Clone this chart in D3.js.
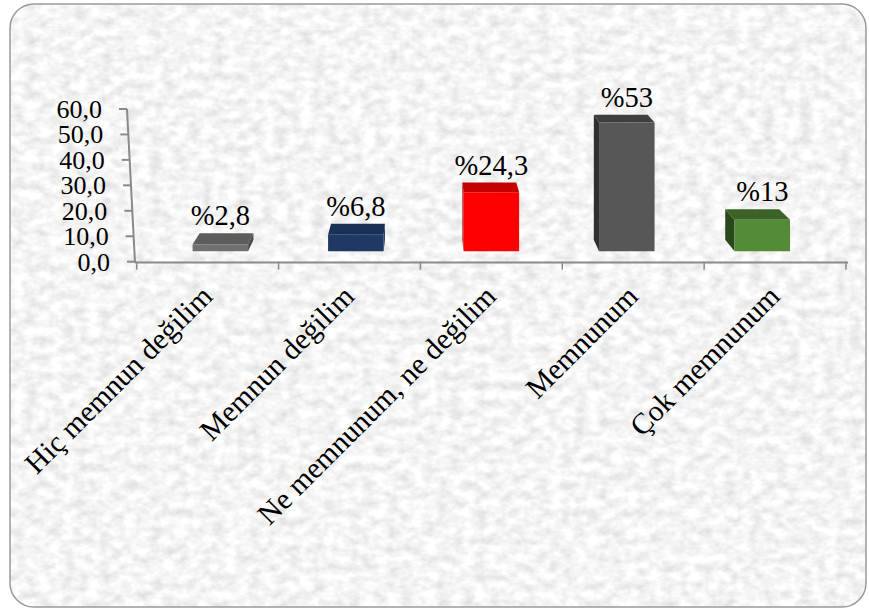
<!DOCTYPE html>
<html>
<head>
<meta charset="utf-8">
<script src="https://cdn.jsdelivr.net/npm/d3@7"></script>
<style>
  html, body { margin: 0; padding: 0; background: #ffffff; }
  svg { display: block; }
  text { font-family: "Liberation Serif", "Times New Roman", serif; fill: #000; }
</style>
</head>
<body>
<svg id="chart" width="869" height="610"></svg>
<script>
// ---------- data ----------
const categories = ["Hiç memnun değilim", "Memnun değilim", "Ne memnunum, ne değilim", "Memnunum", "Çok memnunum"];
const values = [2.8, 6.8, 24.3, 53, 13];
const valueLabels = ["%2,8", "%6,8", "%24,3", "%53", "%13"];
const yTicks = [0, 10, 20, 30, 40, 50, 60];
const yTickLabels = ["0,0", "10,0", "20,0", "30,0", "40,0", "50,0", "60,0"];
const frontColors = ["#72706e", "#203864", "#ff0000", "#575757", "#558b37"];
const topColors = ["#5e5c5a", "#1a2f55", "#c40000", "#3f3f3f", "#3c6327"];
const sideColors = ["#4a4846", "#142644", "#a00000", "#2f2f2f", "#2b471c"];

// ---------- setup ----------
const svg = d3.select("#chart");

const defs = svg.append("defs");
const filt = defs.append("filter").attr("id", "paper")
  .attr("x", 0).attr("y", 0).attr("width", "100%").attr("height", "100%");
filt.append("feTurbulence").attr("type", "fractalNoise")
  .attr("baseFrequency", "0.08 0.11").attr("numOctaves", 3).attr("seed", 11).attr("result", "t");
filt.append("feColorMatrix").attr("in", "t").attr("type", "matrix")
  .attr("values", "0.45 0 0 0 0.685  0.45 0 0 0 0.685  0.45 0 0 0 0.685  0 0 0 0 1")
  .attr("result", "g");
filt.append("feComposite").attr("in", "g").attr("in2", "SourceGraphic").attr("operator", "in");

const frame = { x: 10, y: 4, w: 856, h: 603, r: 24 };
svg.append("rect").attr("x", frame.x).attr("y", frame.y).attr("width", frame.w).attr("height", frame.h)
  .attr("rx", frame.r).attr("ry", frame.r).attr("fill", "#000").attr("filter", "url(#paper)");
svg.append("line").attr("x1", frame.x + 2).attr("x2", frame.x + frame.w - 2)
  .attr("y1", 29).attr("y2", 29).attr("stroke", "#ffffff").attr("stroke-opacity", 0.5).attr("stroke-width", 1);
svg.append("rect").attr("x", frame.x).attr("y", frame.y).attr("width", frame.w).attr("height", frame.h)
  .attr("rx", frame.r).attr("ry", frame.r).attr("fill", "none").attr("stroke", "#9a9a9a").attr("stroke-width", 1.5);

// ---------- scales ----------
const x = d3.scaleBand().domain(categories).range([136.7, 846]).paddingInner(0).paddingOuter(0);
const y = d3.scaleLinear().domain([0, 60]).range([261.7, 109]);
const axisX = d3.scaleLinear().domain([0, 60]).range([135, 127]);   // slanted value axis

const g = svg.append("g");
const axisColor = "#8a8a8a";

// value axis (slanted)
g.append("line")
  .attr("x1", axisX(0)).attr("y1", y(0) + 1)
  .attr("x2", axisX(60)).attr("y2", y(60))
  .attr("stroke", axisColor).attr("stroke-width", 2);
g.selectAll(".ytick").data(yTicks).enter().append("line")
  .attr("x1", d => axisX(d) - 8).attr("x2", d => axisX(d))
  .attr("y1", d => y(d)).attr("y2", d => y(d))
  .attr("stroke", axisColor).attr("stroke-width", 2);
g.selectAll(".ylab").data(yTicks).enter().append("text")
  .attr("x", d => axisX(d) - 25).attr("y", d => y(d) + 9)
  .attr("text-anchor", "end").attr("font-size", 26)
  .text((d, i) => yTickLabels[i]);

// category axis
g.append("line")
  .attr("x1", axisX(0)).attr("x2", x.range()[1] + 2)
  .attr("y1", y(0) + 0.8).attr("y2", y(0) + 0.8)
  .attr("stroke", axisColor).attr("stroke-width", 2);
const boundaries = categories.map(c => x(c)).concat([x.range()[1]]);
g.selectAll(".xtick").data(boundaries).enter().append("line")
  .attr("x1", d => d).attr("x2", d => d)
  .attr("y1", y(0)).attr("y2", y(0) + 8)
  .attr("stroke", axisColor).attr("stroke-width", 1.5);
g.selectAll(".xlab").data(categories).enter().append("text")
  .attr("text-anchor", "end").attr("font-size", 29.5)
  .attr("transform", d => `translate(${x(d) + x.bandwidth() / 2 + 6.5},298) rotate(-45)`)
  .text(d => d);

// ---------- 3D bars ----------
const plane = ([px, py]) => [491 + (px - 491) * 0.955, 29.5 + (py - 29.5) * 0.955];
const VP = [425, -130], depth = 0.03;
const back = ([px, py]) => [px + depth * (VP[0] - px), py + depth * (VP[1] - py)];
const halfW = x.bandwidth() * 0.205;
const poly = pts => pts.map(p => p.join(",")).join(" ");

categories.forEach((c, i) => {
  const cx = x(c) + x.bandwidth() / 2;
  const fTL = plane([cx - halfW, y(values[i])]);
  const fTR = plane([cx + halfW, y(values[i])]);
  const fBL = plane([cx - halfW, y(0)]);
  const fBR = plane([cx + halfW, y(0)]);
  const bTL = back(fTL), bTR = back(fTR), bBL = back(fBL), bBR = back(fBR);
  const bar = g.append("g");
  if (bTR[0] > fTR[0]) {
    bar.append("polygon").attr("points", poly([fTR, bTR, bBR, fBR])).attr("fill", sideColors[i]);
  } else {
    bar.append("polygon").attr("points", poly([fTL, bTL, bBL, fBL])).attr("fill", sideColors[i]);
  }
  bar.append("polygon").attr("points", poly([fTL, fTR, bTR, bTL])).attr("fill", topColors[i]);
  bar.append("polygon").attr("points", poly([fTL, fTR, fBR, fBL])).attr("fill", frontColors[i]);
  g.append("text")
    .attr("x", (fTL[0] + fTR[0]) / 2)
    .attr("y", Math.min(bTL[1], bTR[1]) - 8)
    .attr("text-anchor", "middle").attr("font-size", 28.5)
    .text(valueLabels[i]);
});
</script>
</body>
</html>
